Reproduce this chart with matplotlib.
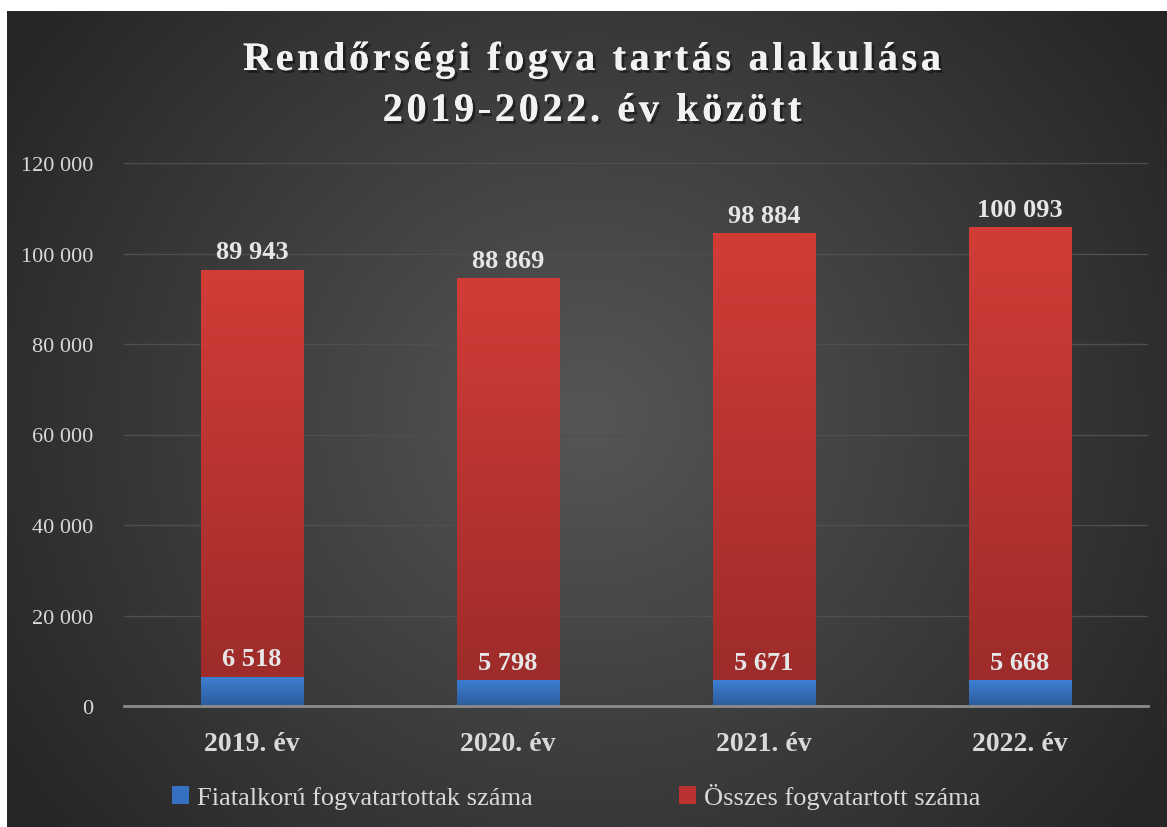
import numpy as np
import matplotlib
matplotlib.use("Agg")
import matplotlib.pyplot as plt
import matplotlib.patheffects as pe
from matplotlib.patches import Patch
from matplotlib.font_manager import FontProperties

# data
years = ["2019. év", "2020. év", "2021. év", "2022. év"]
juvenile = [6518, 5798, 5671, 5668]
total = [89943, 88869, 98884, 100093]
yticks = [0, 20000, 40000, 60000, 80000, 100000, 120000]
series_names = ["Fiatalkorú fogvatartottak száma", "Összes fogvatartott száma"]
title_lines = ["Rendőrségi fogva tartás alakulása", "2019-2022. év között"]


def fmt(v):
    return f"{v:,}".replace(",", " ")


plt.rcParams["font.family"] = ["Liberation Serif", "DejaVu Serif"]

W, H = 1167, 828
fig = plt.figure(figsize=(W / 100, H / 100), dpi=100)
fig.patch.set_facecolor("white")

# dark radial background
bg = fig.add_axes([7 / W, 0, 1 - 7 / W, 1 - 12 / H])
yy, xx = np.mgrid[0:1:400j, 0:1:560j]
r = np.sqrt((xx - 0.5) ** 2 + ((yy - 0.5) * 0.75) ** 2) / 0.6
r = np.clip(r, 0, 1)
c_in, c_out = np.array([0x56, 0x56, 0x56]) / 255, np.array([0x26, 0x26, 0x26]) / 255
img = c_in[None, None, :] * (1 - r[..., None]) + c_out[None, None, :] * r[..., None]
bg.imshow(img, aspect="auto", extent=[0, 1, 0, 1], interpolation="bilinear")
bg.set_axis_off()

ax = fig.add_axes([124 / W, 1 - 707 / H, (1148 - 124) / W, (707 - 164) / H])
ax.set_facecolor("none")
x = np.arange(len(years))
w = 0.40

b1 = ax.bar(x, juvenile, w, color="#3670C0", zorder=3)
b2 = ax.bar(x, total, w, bottom=juvenile, color="#B93431", zorder=3)


def grad(bars, top, bottom):
    cm = np.linspace(0, 1, 64)[:, None, None]
    g = np.array(top)[None, None, :] * (1 - cm) + np.array(bottom)[None, None, :] * cm
    for b in bars:
        x0, y0 = b.get_x(), b.get_y()
        im = ax.imshow(g, aspect="auto", interpolation="bilinear", zorder=4,
                       extent=[x0, x0 + b.get_width(), y0, y0 + b.get_height()])
        im.set_clip_path(b)


grad(b1, np.array([0x3D, 0x7F, 0xD3]) / 255, np.array([0x2D, 0x5C, 0x9C]) / 255)
grad(b2, np.array([0xD2, 0x3C, 0x37]) / 255, np.array([0x9E, 0x2C, 0x2A]) / 255)

ax.set_xlim(-0.5, len(years) - 0.5)
ax.set_ylim(0, 120000)
ax.set_yticks(yticks)
ax.set_yticklabels([fmt(v) for v in yticks], fontsize=16, color="#D9D9D9")
ax.set_xticks(x)
ax.set_xticklabels(years, fontsize=20, fontweight="bold", color="#D9D9D9")
ax.tick_params(length=0)
ax.tick_params(axis="y", pad=22)
ax.tick_params(axis="x", pad=18)
ax.grid(axis="y", color="#4F4F4F", linewidth=1, zorder=0)
for s in ["top", "right", "left"]:
    ax.spines[s].set_visible(False)
ax.spines["bottom"].set_color("#8C8C8C")
ax.spines["bottom"].set_linewidth(2)
ax.spines["bottom"].set_zorder(5)

for i in range(len(years)):
    top = juvenile[i] + total[i]
    ax.annotate(fmt(total[i]), (x[i], top), xytext=(0, 8), textcoords="offset points",
                ha="center", va="baseline", fontsize=19, fontweight="bold", color="#E6E6E6", zorder=6)
    ax.annotate(fmt(juvenile[i]), (x[i], juvenile[i]), xytext=(0, 8), textcoords="offset points",
                ha="center", va="baseline", fontsize=19, fontweight="bold", color="#E6E6E6", zorder=6)

# title with letter spacing, drawn char by char
shadow = [pe.withSimplePatchShadow(offset=(2, -2), shadow_rgbFace="black", alpha=0.45), pe.Normal()]
tprop = FontProperties(family=["Liberation Serif"], weight="bold", size=29)
renderer = fig.canvas.get_renderer()


def tw(s):
    return renderer.get_text_width_height_descent(s, tprop, ismath=False)[0]


spacing = 3.6
for line, base in zip(title_lines, [71, 122]):
    pos = [tw(line[:i] + "|") - tw("|") + i * spacing for i in range(len(line))]
    total_w = pos[-1] + tw(line[-1])
    x0 = 592 - total_w / 2
    for ch, p in zip(line, pos):
        if ch == " ":
            continue
        fig.text((x0 + p) / W, 1 - base / H, ch, fontproperties=tprop, color="#F2F2F2",
                 ha="left", va="baseline", path_effects=shadow)

handles = [Patch(facecolor="#3670C0"), Patch(facecolor="#B93431")]
fig.legend(handles, series_names, loc="center", bbox_to_anchor=(576 / W, 1 - 797 / H),
           ncol=2, frameon=False, fontsize=19, labelcolor="#D9D9D9", handlelength=0.65,
           handleheight=0.65, handletextpad=0.3, columnspacing=5.55)

fig.savefig("out.png", dpi=100)
